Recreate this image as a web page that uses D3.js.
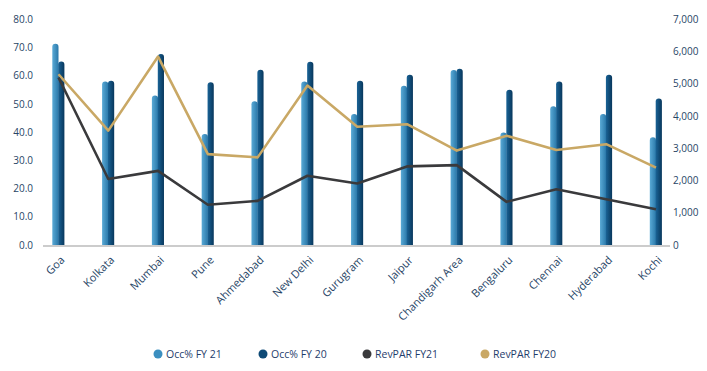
<html>
<head>
<meta charset="utf-8">
<script src="https://cdn.jsdelivr.net/npm/d3@7"></script>
<style>
body { margin: 0; background: #fff; }
text { font-family: "Open Sans", sans-serif; }
</style>
</head>
<body>
<script>

// data
var cities = ["Goa", "Kolkata", "Mumbai", "Pune", "Ahmedabad", "New Delhi", "Gurugram",
  "Jaipur", "Chandigarh Area", "Bengaluru", "Chennai", "Hyderabad", "Kochi"]
var occFY21 = [71.4, 58.0, 53.0, 39.4, 51.0, 58.0, 46.5, 56.5, 62.1, 39.9, 49.2, 46.5, 38.2]
var occFY20 = [65.1, 58.3, 67.8, 57.7, 62.2, 65.0, 58.3, 60.4, 62.5, 55.1, 58.0, 60.4, 52.0]
var revFY21 = [5200, 2050, 2300, 1250, 1370, 2150, 1910, 2440, 2480, 1340, 1730, 1420, 1110]
var revFY20 = [5300, 3550, 5850, 2820, 2720, 4950, 3670, 3750, 2930, 3390, 2950, 3130, 2400]
var leftTicks = [0, 10, 20, 30, 40, 50, 60, 70, 80]
var rightTicks = [0, 1000, 2000, 3000, 4000, 5000, 6000, 7000]
var seriesNames = ["Occ% FY 21", "Occ% FY 20", "RevPAR FY21", "RevPAR FY20"]
var seriesColors = ["#3b8fc0", "#0e4a76", "#3a3a3c", "#c9a865"]

var W = 707, H = 371
var svg = d3.select("body").append("svg").attr("width", W).attr("height", H)

var x = d3.scalePoint().domain(cities).range([58.5, 656])
var yL = d3.scaleLinear().domain([0, 80]).range([245, 19.5])
var yR = d3.scaleLinear().domain([0, 7000]).range([245, 19.5])

var defs = svg.append("defs")
function grad(id, c1, c2) {
  var g = defs.append("linearGradient").attr("id", id)
    .attr("x1", "0%").attr("x2", "100%").attr("y1", "0%").attr("y2", "0%")
  g.append("stop").attr("offset", "0%").attr("stop-color", c1)
  g.append("stop").attr("offset", "100%").attr("stop-color", c2)
}
grad("gLight", "#5aaad6", "#2a78a9")
grad("gDark", "#1a6396", "#08375c")

// axis labels
svg.append("g").selectAll("text").data(leftTicks).enter().append("text")
  .attr("x", 33).attr("y", function(d) { return yL(d) }).attr("dy", "0.35em")
  .attr("text-anchor", "end").attr("font-size", "10px").attr("fill", "#284566")
  .text(function(d) { return d3.format(".1f")(d) })

svg.append("g").selectAll("text").data(rightTicks).enter().append("text")
  .attr("x", 673).attr("y", function(d) { return yR(d) }).attr("dy", "0.35em")
  .attr("text-anchor", "start").attr("font-size", "10px").attr("fill", "#284566")
  .text(function(d) { return d3.format(",")(d) })

// bars with rounded tops
var bw = 6.2
function barPath(x0, yTop, yBase, w) {
  var r = w / 2
  return "M" + x0 + "," + yBase + "V" + (yTop + r) +
    "A" + r + "," + r + " 0 0 1 " + (x0 + w) + "," + (yTop + r) +
    "V" + yBase + "Z"
}

svg.append("g").selectAll("path").data(cities).enter().append("path")
  .attr("d", function(d, i) { return barPath(x(d) - bw, yL(occFY21[i]), yL(0), bw) })
  .attr("fill", "url(#gLight)")

svg.append("g").selectAll("path").data(cities).enter().append("path")
  .attr("d", function(d, i) { return barPath(x(d) - 0.3, yL(occFY20[i]), yL(0), bw) })
  .attr("fill", "url(#gDark)")

// baseline
svg.append("line").attr("x1", 43).attr("x2", 670)
  .attr("y1", yL(0) + 1).attr("y2", yL(0) + 1)
  .attr("stroke", "#9a9a9a").attr("stroke-width", 1.2)

// RevPAR lines
var line = d3.line().x(function(d) { return x(d.c) }).y(function(d) { return yR(d.v) })

svg.append("path")
  .datum(cities.map(function(c, i) { return {c: c, v: revFY20[i]} }))
  .attr("d", line).attr("fill", "none")
  .attr("stroke", seriesColors[3]).attr("stroke-width", 2.6).attr("stroke-linejoin", "round")

svg.append("path")
  .datum(cities.map(function(c, i) { return {c: c, v: revFY21[i]} }))
  .attr("d", line).attr("fill", "none")
  .attr("stroke", seriesColors[2]).attr("stroke-width", 2.6).attr("stroke-linejoin", "round")

// category labels
svg.append("g").selectAll("text").data(cities).enter().append("text")
  .attr("transform", function(d) { return "translate(" + (x(d) + 4) + ",258) rotate(-45)" })
  .attr("text-anchor", "end").attr("dy", "0.35em")
  .attr("font-size", "11px").attr("fill", "#284566")
  .text(function(d) { return d })

// legend
var legX = [158, 263, 367, 485]
var leg = svg.append("g").selectAll("g").data(seriesNames).enter().append("g")
  .attr("transform", function(d, i) { return "translate(" + legX[i] + ",354)" })

leg.append("circle").attr("r", 4.5).attr("fill", function(d, i) { return seriesColors[i] })
leg.append("text").attr("x", 8).attr("dy", "0.35em")
  .attr("font-size", "10.5px").attr("fill", "#1f3d6b")
  .text(function(d) { return d })

</script>
</body>
</html>
